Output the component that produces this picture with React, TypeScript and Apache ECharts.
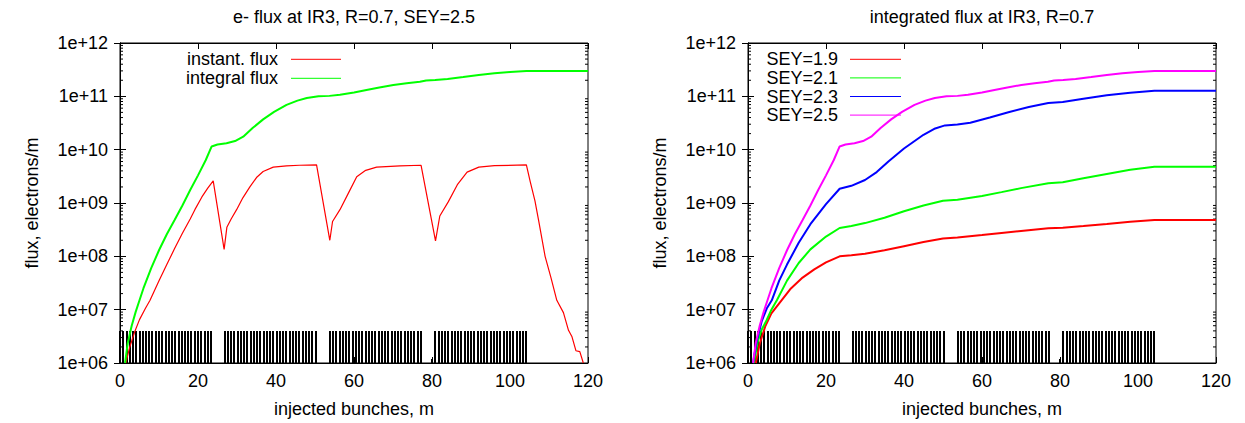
import React, { useEffect, useRef } from "react";
import * as echarts from "echarts";

// ---------- data ----------
const leftTitle = "e- flux at IR3, R=0.7, SEY=2.5";
const rightTitle = "integrated flux at IR3, R=0.7";
const xAxisName = "injected bunches, m";
const yAxisName = "flux, electrons/m";
const yTickLabels = ["1e+06", "1e+07", "1e+08", "1e+09", "1e+10", "1e+11", "1e+12"];
const minorMultipliers = [2, 3, 4, 5, 6, 7, 8, 9];
const decades = [1e6, 1e7, 1e8, 1e9, 1e10, 1e11];

const leftLegend = ["instant. flux", "integral flux"];
const rightLegend = ["SEY=1.9", "SEY=2.1", "SEY=2.3", "SEY=2.5"];

// instantaneous flux, SEY=2.5  [bunch, electrons/m]
const instantFlux: number[][] = [
  [1.5, 1e6], [2.5, 2.0e6], [3.8, 3.9e6], [5, 6.5e6], [6.5, 1.05e7], [7.7, 1.5e7],
  [10, 3.5e7], [12, 7e7], [14, 1.4e8], [16, 2.7e8], [18, 5e8], [19.2, 7.5e8],
  [21, 1.3e9], [22.5, 1.9e9], [23.9, 2.6e9], [26.7, 1.35e8], [27.4, 3.5e8], [28.5, 5e8],
  [29.9, 7.5e8], [31.5, 1.25e9], [33.3, 2e9], [35, 3e9], [36.7, 3.9e9], [39.3, 4.7e9],
  [42.7, 4.95e9], [46, 5.1e9], [50.4, 5.2e9], [53.8, 2e8], [54.5, 4.5e8], [56.4, 7.5e8],
  [58.5, 1.5e9], [60.7, 3.1e9], [63, 4.1e9], [65.8, 4.7e9], [71.8, 4.95e9], [77.2, 5.1e9],
  [80.9, 1.95e8], [82, 5.7e8], [84.2, 1.06e9], [86.5, 2.2e9], [89, 3.8e9], [92, 4.7e9],
  [96, 5.0e9], [104.2, 5.2e9], [105.2, 2.5e9], [106.4, 1.1e9], [107.3, 4.9e8], [109, 1e8],
  [110.5, 4e7], [112, 1.5e7], [113.7, 8.8e6], [115, 4.1e6], [115.9, 3.1e6], [116.9, 1.7e6],
  [117.9, 1.63e6], [118.8, 1e6],
];

// integral flux, SEY=2.5 (same curve in both panels)
const integralFlux25: number[][] = [
  [1.3, 1e6], [2, 2.4e6], [3, 5e6], [4, 9e6], [5, 1.5e7], [6, 2.5e7], [8, 6e7],
  [10, 1.3e8], [12, 2.6e8], [14, 4.8e8], [16, 9e8], [18, 1.75e9], [20, 3.3e9], [22, 6.4e9],
  [23.5, 1.15e10], [25, 1.25e10], [27.3, 1.32e10], [29.5, 1.45e10], [31.6, 1.75e10],
  [34, 2.55e10], [36.7, 3.7e10], [39.5, 5.1e10], [42.7, 6.9e10], [45.5, 8.3e10], [47.9, 9.3e10],
  [50.9, 1.0e11], [53.7, 1.02e11], [56.4, 1.07e11], [60, 1.18e11], [63.2, 1.32e11],
  [66.5, 1.47e11], [70.1, 1.63e11], [73.5, 1.76e11], [76.9, 1.87e11], [78.5, 1.98e11],
  [80.8, 2.02e11], [84, 2.12e11], [88, 2.3e11], [92, 2.5e11], [96, 2.7e11], [100, 2.86e11],
  [104.2, 2.98e11], [120, 3e11],
];

const integralFlux19: number[][] = [
  [2.0, 1e6], [3, 2.3e6], [4.4, 4.8e6], [6, 8.5e6], [8.6, 1.5e7], [11, 2.5e7], [14, 4e7],
  [17, 5.7e7], [20, 7.7e7], [23.5, 1.0e8], [26.5, 1.05e8], [30, 1.12e8], [35, 1.3e8],
  [40, 1.55e8], [45, 1.85e8], [50, 2.15e8], [53.7, 2.25e8], [60, 2.5e8], [65, 2.75e8],
  [70, 3.0e8], [77, 3.35e8], [80.7, 3.45e8], [86, 3.7e8], [92, 4.05e8], [98, 4.45e8],
  [104.2, 4.8e8], [120, 4.8e8],
];

const integralFlux21: number[][] = [
  [1.5, 1e6], [2.5, 2.5e6], [3.5, 4.2e6], [4.8, 6.4e6], [6, 1e7], [7.4, 1.5e7], [10, 3.5e7],
  [13, 7.5e7], [16, 1.35e8], [20, 2.35e8], [23.5, 3.4e8], [26.5, 3.7e8], [30, 4.2e8],
  [35, 5.3e8], [40, 7e8], [45, 9e8], [50, 1.1e9], [53.7, 1.15e9], [60, 1.35e9], [65, 1.6e9],
  [70, 1.9e9], [77, 2.35e9], [80.7, 2.45e9], [86, 2.9e9], [92, 3.5e9], [98, 4.2e9],
  [104.2, 4.8e9], [120, 4.8e9],
];

const integralFlux23: number[][] = [
  [1.3, 1e6], [2.2, 2.5e6], [3.5, 6e6], [4.8, 1.05e7], [6.1, 1.5e7], [8, 3.5e7], [10, 7e7],
  [13, 1.8e8], [16, 4e8], [20, 9.5e8], [23.5, 1.85e9], [26.5, 2.1e9], [30, 2.7e9],
  [33, 3.8e9], [36, 6e9], [40, 1.05e10], [45, 1.9e10], [48, 2.5e10], [50.5, 2.85e10],
  [53.7, 2.95e10], [57, 3.2e10], [62, 4e10], [67, 5.1e10], [72, 6.3e10], [77, 7.5e10],
  [80.7, 7.8e10], [86, 9e10], [92, 1.05e11], [98, 1.17e11], [104.2, 1.27e11], [120, 1.27e11],
];

// injected bunch pattern (impulses): position, height
const bunchTop = 4.0e6;
const bunchPositions: number[] = [
  0.0, 0.83, 1.67, 2.5, 3.33, 4.17, 5.0, 5.83, 6.67, 7.5, 8.33, 9.17, 10.0, 10.83, 11.67,
  12.5, 13.33, 14.17, 15.0, 15.83, 16.67, 17.5, 18.33, 19.17, 20.0, 20.83, 21.67, 22.5, 23.33,
  26.85, 27.68, 28.52, 29.35, 30.18, 31.02, 31.85, 32.68, 33.52, 34.35, 35.18, 36.02, 36.85,
  37.68, 38.52, 39.35, 40.18, 41.02, 41.85, 42.68, 43.52, 44.35, 45.18, 46.02, 46.85, 47.68,
  48.52, 49.35, 50.18,
  53.8, 54.63, 55.47, 56.3, 57.13, 57.97, 58.8, 59.63, 60.47, 61.3, 62.13, 62.97, 63.8,
  64.63, 65.47, 66.3, 67.13, 67.97, 68.8, 69.63, 70.47, 71.3, 72.13, 72.97, 73.8, 74.63,
  75.47, 76.3, 77.13,
  80.85, 81.68, 82.52, 83.35, 84.18, 85.02, 85.85, 86.68, 87.52, 88.35, 89.18, 90.02, 90.85,
  91.68, 92.52, 93.35, 94.18, 95.02, 95.85, 96.68, 97.52, 98.35, 99.18, 100.02, 100.85,
  101.68, 102.52, 103.35, 104.18,
];
const shortBunches: number[][] = [[79.9, 1.2e6]];

// ---------- layout ----------
const X_MIN = 0;
const X_MAX = 120;
const Y_MIN = 1e6;
const Y_MAX = 1e12;
const FONT = "'Liberation Sans', Arial, Helvetica, sans-serif";
const FS = 18;
const GRID_TOP = 43;
const GRID_H = 320;
const GRID_W = 468;
const LEFT_X = 120;
const RIGHT_X = 748;

const COLORS = { red: "#ff0000", green: "#00ff00", blue: "#0000ff", magenta: "#ff00ff" };

export default function App() {
  const ref = useRef<HTMLDivElement>(null);

  useEffect(() => {
    document.body.style.margin = "0";
    if (!ref.current) return;
    const chart = echarts.init(ref.current, undefined, { renderer: "svg" });

    const yFmt = (v: number) => {
      const i = Math.round(Math.log10(v)) - 6;
      return yTickLabels[i] ?? "";
    };
    const labelStyle = { fontSize: FS, color: "#000", fontFamily: FONT };
    const tick = { show: true, inside: true, length: 6, lineStyle: { color: "#000", width: 1 } };
    const axLine = { show: true, lineStyle: { color: "#000", width: 1 } };

    const xAxes: any[] = [];
    const yAxes: any[] = [];
    [0, 1].forEach((g) => {
      xAxes.push({
        gridIndex: g, type: "value", position: "bottom", min: X_MIN, max: X_MAX, interval: 20,
        axisLine: axLine, axisTick: tick, splitLine: { show: false },
        axisLabel: { ...labelStyle, margin: 9 },
        name: xAxisName, nameLocation: "middle", nameGap: 37,
        nameTextStyle: labelStyle,
      });
      xAxes.push({
        gridIndex: g, type: "value", position: "top", min: X_MIN, max: X_MAX, interval: 20,
        axisLine: axLine, axisTick: tick, splitLine: { show: false }, axisLabel: { show: false },
      });
      yAxes.push({
        gridIndex: g, type: "log", logBase: 10, position: "left", min: Y_MIN, max: Y_MAX,
        splitNumber: 6, axisLine: axLine, axisTick: tick, splitLine: { show: false },
        axisLabel: { ...labelStyle, margin: 12, formatter: yFmt },
        name: yAxisName, nameLocation: "middle", nameGap: 79, nameRotate: 90,
        nameTextStyle: labelStyle,
      });
      yAxes.push({
        gridIndex: g, type: "log", logBase: 10, position: "right", min: Y_MIN, max: Y_MAX,
        splitNumber: 6, axisLine: axLine, axisTick: tick, splitLine: { show: false },
        axisLabel: { show: false },
      });
    });

    const bunchData = bunchPositions.map((x) => [x, bunchTop]).concat(shortBunches);
    const minorData: number[][] = [];
    decades.forEach((d) => minorMultipliers.forEach((m) => minorData.push([X_MIN, d * m])));

    const bunchSeries = (ax: number) => ({
      type: "custom", xAxisIndex: ax * 2, yAxisIndex: ax * 2, data: bunchData, silent: true, z: 1,
      renderItem: (_p: any, api: any) => {
        const x = api.value(0);
        const top = api.value(1);
        const a = api.coord([x, Y_MIN]);
        const b = api.coord([x, top]);
        const px = Math.round(a[0]);
        return {
          type: "line",
          shape: { x1: px, y1: a[1], x2: px, y2: Math.round(b[1]) },
          style: { stroke: "#000", lineWidth: 2 },
        };
      },
    });
    const minorSeries = (ax: number) => ({
      type: "custom", xAxisIndex: ax * 2, yAxisIndex: ax * 2, data: minorData, silent: true, z: 1,
      renderItem: (_p: any, api: any) => {
        const v = api.value(1);
        const p = api.coord([X_MIN, v]);
        const q = api.coord([X_MAX, v]);
        return {
          type: "group",
          children: [
            { type: "line", shape: { x1: p[0], y1: p[1], x2: p[0] + 3, y2: p[1] }, style: { stroke: "#000", lineWidth: 1 } },
            { type: "line", shape: { x1: q[0] - 3, y1: q[1], x2: q[0], y2: q[1] }, style: { stroke: "#000", lineWidth: 1 } },
          ],
        };
      },
    });
    const line = (ax: number, name: string, data: number[][], color: string, width: number) => ({
      type: "line", name, xAxisIndex: ax * 2, yAxisIndex: ax * 2, data, showSymbol: false,
      symbol: "none", color, lineStyle: { color, width }, z: 3, silent: true,
    });

    const legendItems = (textRight: number, lineX1: number, lineX2: number, rows: number[], names: string[], colors: string[]) => {
      const out: any[] = [];
      names.forEach((n, i) => {
        out.push({
          type: "text", x: textRight, y: rows[i],
          style: { text: n, fontSize: FS, fontFamily: FONT, fill: "#000", textAlign: "right", textVerticalAlign: "middle" },
        });
        out.push({
          type: "line", shape: { x1: lineX1, y1: rows[i], x2: lineX2, y2: rows[i] },
          style: { stroke: colors[i], lineWidth: 1 },
        });
      });
      return out;
    };

    chart.setOption({
      animation: false,
      backgroundColor: "#fff",
      textStyle: { fontFamily: FONT },
      title: [
        { text: leftTitle, left: LEFT_X + GRID_W / 2, top: 8, textAlign: "center", padding: 0,
          textStyle: { fontSize: FS, fontWeight: "normal", color: "#000", fontFamily: FONT } },
        { text: rightTitle, left: RIGHT_X + GRID_W / 2, top: 8, textAlign: "center", padding: 0,
          textStyle: { fontSize: FS, fontWeight: "normal", color: "#000", fontFamily: FONT } },
      ],
      grid: [
        { left: LEFT_X, top: GRID_TOP, width: GRID_W, height: GRID_H, show: true, borderColor: "#000", borderWidth: 1, backgroundColor: "transparent" },
        { left: RIGHT_X, top: GRID_TOP, width: GRID_W, height: GRID_H, show: true, borderColor: "#000", borderWidth: 1, backgroundColor: "transparent" },
      ],
      xAxis: xAxes,
      yAxis: yAxes,
      series: [
        bunchSeries(0), minorSeries(0),
        line(0, leftLegend[0], instantFlux, COLORS.red, 1.2),
        line(0, leftLegend[1], integralFlux25, COLORS.green, 2),
        bunchSeries(1), minorSeries(1),
        line(1, rightLegend[0], integralFlux19, COLORS.red, 2),
        line(1, rightLegend[1], integralFlux21, COLORS.green, 2),
        line(1, rightLegend[2], integralFlux23, COLORS.blue, 2),
        line(1, rightLegend[3], integralFlux25, COLORS.magenta, 2),
      ],
      graphic: [
        ...legendItems(278, 291, 341, [59.3, 78.3], leftLegend, [COLORS.red, COLORS.green]),
        ...legendItems(838, 850, 901, [59.3, 77.9, 96.5, 115.1], rightLegend,
          [COLORS.red, COLORS.green, COLORS.blue, COLORS.magenta]),
      ],
    });

    return () => chart.dispose();
  }, []);

  return <div ref={ref} style={{ width: 1245, height: 423 }} />;
}
